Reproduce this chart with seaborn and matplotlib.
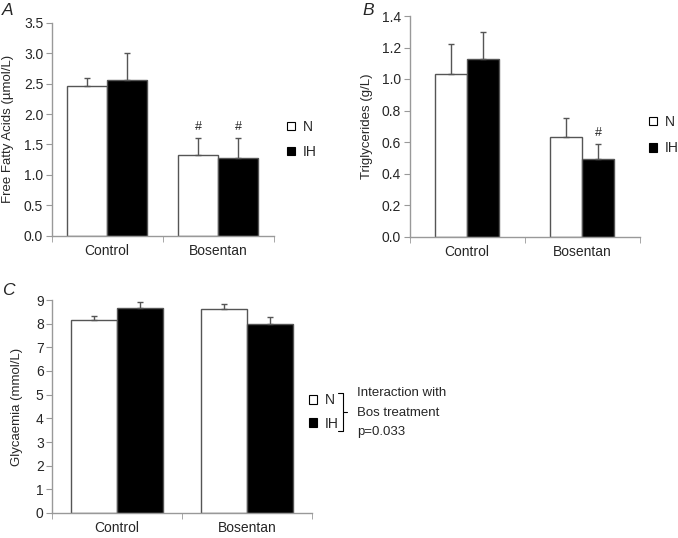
import numpy as np
import pandas as pd
import seaborn as sns
import matplotlib.pyplot as plt
from matplotlib.lines import Line2D
from matplotlib.transforms import blended_transform_factory

# values (mean and upper SEM)
treatments = ['Control', 'Bosentan']
groups = ['N', 'IH']

ffa_n = [2.47, 1.33]
ffa_n_err = [0.13, 0.27]
ffa_ih = [2.56, 1.27]
ffa_ih_err = [0.45, 0.33]
ffa_mark_n = ['', '#']
ffa_mark_ih = ['', '#']

tg_n = [1.03, 0.63]
tg_n_err = [0.19, 0.125]
tg_ih = [1.13, 0.49]
tg_ih_err = [0.17, 0.095]
tg_mark_n = ['', '']
tg_mark_ih = ['', '#']

glu_n = [8.15, 8.60]
glu_n_err = [0.18, 0.22]
glu_ih = [8.65, 8.00]
glu_ih_err = [0.27, 0.30]
glu_mark_n = ['', '']
glu_mark_ih = ['', '']

sns.set_style('white')
plt.rcParams['font.family'] = ['Liberation Sans', 'DejaVu Sans']
plt.rcParams['font.size'] = 9

W, H = 678, 538
fig = plt.figure(figsize=(W / 100, H / 100), dpi=100)


def px(x0, y0, x1, y1):
    # pixel box -> figure fraction rect
    return [x0 / W, 1 - y1 / H, (x1 - x0) / W, (y1 - y0) / H]


edge = '#555555'
spine = '#999999'


def panel(rect, n, n_err, ih, ih_err, mark_n, mark_ih, width, ymax, step,
          fmt, ylabel, letter, letter_xy, ylabel_x):
    ax = fig.add_axes(rect)
    df = pd.DataFrame({
        'treatment': treatments * 2,
        'group': [groups[0]] * 2 + [groups[1]] * 2,
        'value': n + ih,
    })
    sns.barplot(data=df, x='treatment', y='value', hue='group',
                order=treatments, hue_order=groups,
                palette={'N': 'white', 'IH': 'black'},
                edgecolor=edge, linewidth=1.0, width=width,
                errorbar=None, legend=False, ax=ax)
    for cont, means, errs, marks in zip(ax.containers, [n, ih],
                                        [n_err, ih_err], [mark_n, mark_ih]):
        xs = [b.get_x() + b.get_width() / 2 for b in cont]
        ax.errorbar(xs, means, yerr=[np.zeros(len(errs)), errs], fmt='none',
                    ecolor=edge, elinewidth=1.0, capsize=2.5, capthick=1.0,
                    zorder=3)
        for x, m, e, t in zip(xs, means, errs, marks):
            if t:
                ax.annotate(t, (x, m + e), xytext=(0, 4),
                            textcoords='offset points', ha='center',
                            va='bottom', fontsize=9)
    ax.set_xlim(-0.5, 1.5)
    ax.set_ylim(0, ymax)
    ax.set_yticks(np.arange(0, ymax + step / 2, step))
    ax.yaxis.set_major_formatter(plt.FormatStrFormatter(fmt))
    ax.set_xticks([-0.5, 0.5, 1.5], minor=True)
    ax.tick_params(axis='x', which='major', length=0, pad=6, labelsize=10)
    ax.tick_params(axis='x', which='minor', length=4, color=spine,
                   direction='out', bottom=True)
    ax.tick_params(axis='y', length=4, color=spine, direction='out',
                   left=True, pad=2, labelsize=10)
    ax.set_xlabel('')
    ax.set_ylabel(ylabel, fontsize=9.5)
    ax.yaxis.set_label_coords(
        ylabel_x, 0.5,
        transform=blended_transform_factory(fig.transFigure, ax.transAxes))
    ax.yaxis.label.set_va('center')
    sns.despine(ax=ax)
    for s in ['left', 'bottom']:
        ax.spines[s].set_color(spine)
        ax.spines[s].set_linewidth(1.0)
    fig.text(letter_xy[0] / W, 1 - letter_xy[1] / H, letter, style='italic',
             fontsize=12.5, ha='left', va='top')
    return ax


axA = panel(px(51.5, 23, 273.5, 235.5), ffa_n, ffa_n_err, ffa_ih, ffa_ih_err,
            ffa_mark_n, ffa_mark_ih, 0.72, 3.5, 0.5, '%.1f',
            'Free Fatty Acids (µmol/L)', 'A', (2, 3), 8 / W)
axB = panel(px(409.5, 16, 639.5, 236.5), tg_n, tg_n_err, tg_ih, tg_ih_err,
            tg_mark_n, tg_mark_ih, 0.565, 1.4, 0.2, '%.1f',
            'Triglycerides (g/L)', 'B', (362, 3), 367 / W)
axC = panel(px(52, 300, 312, 513), glu_n, glu_n_err, glu_ih, glu_ih_err,
            glu_mark_n, glu_mark_ih, 0.715, 9, 1, '%d',
            'Glycaemia (mmol/L)', 'C', (2, 283), 17 / W)

# legends
handles = [plt.Rectangle((0, 0), 1, 1, facecolor='white', edgecolor='black',
                         linewidth=0.8),
           plt.Rectangle((0, 0), 1, 1, facecolor='black', edgecolor='black',
                         linewidth=0.8)]
leg_kw = dict(frameon=False, handlelength=0.55, handleheight=0.55,
              handletextpad=0.6, borderpad=0, borderaxespad=0, fontsize=10,
              loc='center left', bbox_transform=fig.transFigure)
axA.legend(handles, groups, bbox_to_anchor=(287 / W, 1 - 139.5 / H),
           labelspacing=0.8, **leg_kw)
axB.legend(handles, groups, bbox_to_anchor=(649 / W, 1 - 135 / H),
           labelspacing=0.9, **leg_kw)
axC.legend(handles, groups, bbox_to_anchor=(309 / W, 1 - 412 / H),
           labelspacing=0.65, **leg_kw)

# bracket and note for panel C
bx, by0, by1, bym = 342.7, 393, 430.7, 411.7
for xs, ys in [([338, bx, bx, 338], [by0, by0, by1, by1]),
               ([bx, bx + 4], [bym, bym])]:
    fig.add_artist(Line2D([x / W for x in xs], [1 - y / H for y in ys],
                          color='black', linewidth=0.8))
for txt, y in [('Interaction with', 393), ('Bos treatment', 413),
               ('p=0.033', 432)]:
    fig.text(357 / W, 1 - y / H, txt, fontsize=9.5, ha='left', va='center')

fig.savefig('out.png', dpi=100)
